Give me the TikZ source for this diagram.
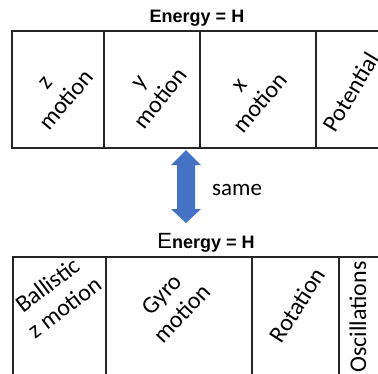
\documentclass[tikz,border=0pt]{standalone}
\usepackage{fontspec}
\setmainfont{Carlito}
\newfontfamily\arialf{Liberation Sans}
\definecolor{arrowblue}{HTML}{4472C4}
\begin{document}
\begin{tikzpicture}[x=1pt,y=-1pt,
  cellline/.style={line width=1.2pt,draw=black!85},
  lbl/.style={align=center,inner sep=0pt,font=\fontsize{24}{28}\selectfont},
  ttl/.style={inner sep=0pt,font=\arialf\bfseries\fontsize{18}{20}\selectfont}]
\useasboundingbox (0,0) rectangle (378,373);
% top box
\draw[cellline] (378,31) -- (12,31) -- (12,148) -- (378,148);
\draw[cellline] (104,31) -- (104,148);
\draw[cellline] (200,31) -- (200,148);
\draw[cellline] (316,31) -- (316,148);
\node[ttl] (t1) at (197,18) {Energy = H};
\node[lbl,rotate=50] (zm) at (57,92) {z\\motion};
\node[lbl,rotate=52] (ym) at (151,91) {y\\motion};
\node[lbl,rotate=50] (xm) at (251,95) {x\\motion};
\node[lbl,rotate=59] (pot) at (351,92) {Potential};
% arrow
\fill[arrowblue] (186,150) -- (201,165) -- (195,165) -- (195,209) -- (201,209)
  -- (186,223) -- (171,209) -- (177,209) -- (177,165) -- (171,165) -- cycle;
\node[lbl,font=\fontsize{23}{26}\selectfont,anchor=west] (same) at (212,190) {same};
% bottom box
\node[ttl] (t2) at (206,243) {{\mdseries\fontsize{22}{22}\selectfont E}nergy = H};
\draw[cellline] (13,378) -- (13,257) -- (378,257);
\draw[cellline] (106,257) -- (106,378);
\draw[cellline] (252,257) -- (252,378);
\draw[cellline] (339,257) -- (339,378);
\node[lbl,rotate=37] (bz) at (56,296) {Ballistic\\z motion};
\node[lbl,rotate=47] (gm) at (172,304) {Gyro\\motion};
\node[lbl,rotate=57] (rot) at (297,305) {Rotation};
\node[lbl,rotate=90] (osc) at (358,317) {Oscillations};
\end{tikzpicture}
\end{document}
